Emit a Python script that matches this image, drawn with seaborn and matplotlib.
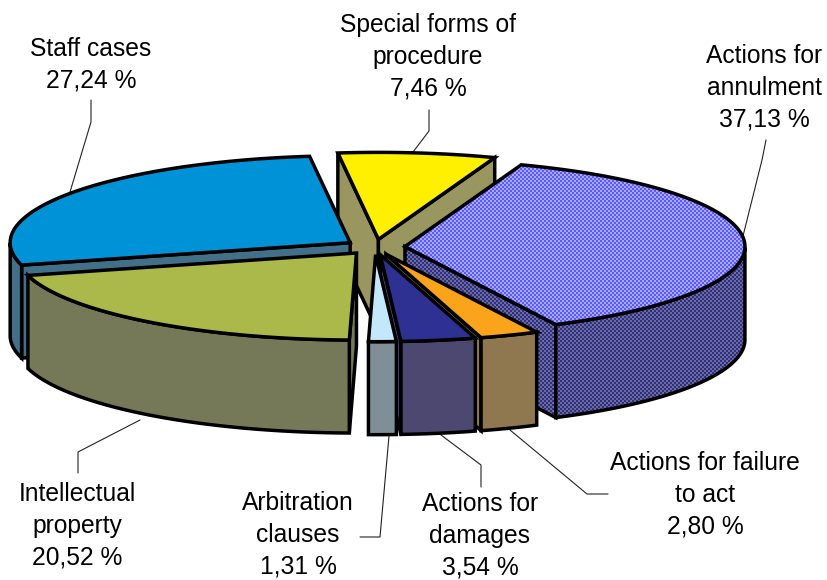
import numpy as np
import matplotlib
matplotlib.use("Agg")
import matplotlib.pyplot as plt
from matplotlib.colors import ListedColormap
from matplotlib.patches import Polygon
import seaborn as sns

# ============================
# DATA
# ============================
categories = ["Actions for\nannulment", "Actions for failure\nto act", "Actions for\ndamages",
              "Arbitration\nclauses", "Intellectual\nproperty", "Staff cases",
              "Special forms of\nprocedure"]
shares = [37.13, 2.80, 3.54, 1.31, 20.52, 27.24, 7.46]
top_colors = ["#5a5aff", "#f9a41a", "#2e3192", "#c4e8fb", "#abb94b", "#0092d6", "#fff000"]
side_colors = ["#30307a", "#8f7850", "#4d4870", "#808e97", "#757957", "#437089", "#999660"]
dither_top = "#a8a8ff"
dither_side = "#6a6aa5"

# ============================
# LAYOUT
# ============================
CX, CY = 375, 247
RX, RY = 340, 87
DEPTH = 93
EXPLODE = 30
START = 70
LW = 2.5

label_pos = [(764, 88), (705, 495), (480, 536), (298, 535), (77, 526), (91, 65), (428, 57)]
leaders = [
    [(766, 140), (762, 160), (742, 240)],
    [(608, 494), (587, 494), (510, 430)],
    [(481, 487), (481, 465), (441, 435)],
    [(360, 537), (380, 537), (389, 436)],
    [(78, 473), (78, 452), (140, 420)],
    [(91, 100), (91, 122), (70, 192)],
    [(429, 110), (429, 131), (413, 152)],
]

sns.set_theme(style="white")
plt.rcParams["font.family"] = ["Liberation Sans", "DejaVu Sans"]

fig = plt.figure(figsize=(8.27, 5.8), dpi=100)
ax = fig.add_axes([0, 0, 1, 1])

# 2 px checker used as the dither texture of the first slice
checker = np.indices((290, 414)).sum(axis=0) % 2
layer = 1


def rim(ox, oy, t):
    r = np.radians(t)
    return np.column_stack([ox + RX * np.cos(r), oy - RY * np.sin(r)])


def face(pts, color, dither=None):
    global layer
    layer += 1
    poly = Polygon(pts, closed=True, facecolor=color, lw=0, zorder=layer)
    ax.add_patch(poly)
    if dither:
        img = ax.imshow(checker, cmap=ListedColormap([color, dither]), extent=(0, 828, 580, 0),
                        interpolation="nearest", aspect="auto", zorder=layer)
        img.set_clip_path(poly)
    ax.add_patch(Polygon(pts, closed=True, fill=False, edgecolor="black", lw=LW,
                         joinstyle="miter", zorder=layer))


def drop(pts):
    return pts + np.array([0, DEPTH])


# wedge angles run clockwise from the start angle
sweeps = np.array(shares) / sum(shares) * 360
ends = START - np.cumsum(sweeps)
starts = ends + sweeps
mids = (starts + ends) / 2

for i in np.argsort(-np.sin(np.radians(mids))):
    ox = CX + EXPLODE * np.cos(np.radians(mids[i]))
    oy = CY - EXPLODE * RY / RX * np.sin(np.radians(mids[i]))
    apex = np.array([[ox, oy]])
    t = np.linspace(starts[i], ends[i], 160)
    arc = rim(ox, oy, t)
    d_top = dither_top if i == 0 else None
    d_side = dither_side if i == 0 else None

    # only the cut faces turned towards the viewer, then the wall, then the top
    if np.cos(np.radians(starts[i])) < 0:
        a = arc[:1]
        face(np.vstack([apex, a, drop(a), drop(apex)]), side_colors[i], d_side)
    if np.cos(np.radians(ends[i])) > 0:
        a = arc[-1:]
        face(np.vstack([apex, a, drop(a), drop(apex)]), side_colors[i], d_side)
    front = t[np.sin(np.radians(t)) < 0]
    if len(front) > 1:
        wall = rim(ox, oy, front)
        face(np.vstack([wall, drop(wall)[::-1]]), side_colors[i], d_side)
    face(np.vstack([apex, arc]), top_colors[i], d_top)

for pts in leaders:
    xs, ys = zip(*pts)
    ax.plot(xs, ys, color="#222222", lw=0.8, zorder=0)

for name, share, (x, y) in zip(categories, shares, label_pos):
    value = f"{share:.2f}".replace(".", ",") + " %"
    ax.text(x, y, f"{name}\n{value}", ha="center", va="center", fontsize=17.7,
            color="black", linespacing=1.42, zorder=100)

ax.set_xlim(0, 827)
ax.set_ylim(580, 0)
ax.set_axis_off()

fig.savefig("out.png", dpi=100)
